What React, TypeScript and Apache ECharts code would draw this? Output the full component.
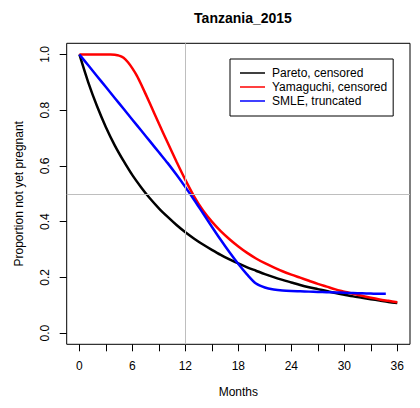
import React, { useEffect, useRef } from "react";
import * as echarts from "echarts";

// Survival curves: proportion of women not yet pregnant by months since start
const paretoMonths = [0, 1, 2, 3, 4, 5, 6, 7, 8, 9, 10, 11, 12, 13, 14, 15, 16, 17, 18, 19, 20, 21, 22, 23, 24, 25, 26, 27, 28, 29, 30, 31, 32, 33, 34, 35, 36];
const paretoValues = [1.0, 0.9, 0.814, 0.739, 0.674, 0.618, 0.567, 0.523, 0.483, 0.448, 0.417, 0.388, 0.362, 0.339, 0.318, 0.299, 0.281, 0.265, 0.25, 0.236, 0.224, 0.212, 0.201, 0.191, 0.182, 0.173, 0.165, 0.158, 0.151, 0.144, 0.138, 0.132, 0.127, 0.122, 0.117, 0.112, 0.108];

const yamaguchiMonths = [0, 1, 2, 3, 3.5, 4, 4.5, 5, 5.5, 6, 6.5, 7, 8, 9, 10, 11, 12, 13, 14, 15, 16, 17, 18, 19, 20, 21, 22, 23, 24, 25, 26, 27, 28, 29, 30, 31, 32, 33, 34, 35, 36];
const yamaguchiValues = [1.0, 1.0, 1.0, 1.0, 1.0, 0.999, 0.996, 0.988, 0.972, 0.95, 0.924, 0.892, 0.823, 0.752, 0.683, 0.615, 0.55, 0.49, 0.44, 0.4, 0.366, 0.337, 0.311, 0.288, 0.268, 0.251, 0.236, 0.222, 0.21, 0.199, 0.188, 0.177, 0.167, 0.157, 0.149, 0.141, 0.134, 0.127, 0.121, 0.116, 0.111];

const smleMonths = [0, 1, 2, 3, 4, 5, 6, 7, 8, 9, 10, 11, 12, 13, 14, 15, 16, 17, 18, 19, 20, 21, 22, 23, 24, 25, 26, 27, 28, 29, 30, 31, 32, 33, 34, 34.7];
const smleValues = [1.0, 0.961, 0.922, 0.883, 0.844, 0.805, 0.766, 0.727, 0.688, 0.649, 0.61, 0.568, 0.524, 0.478, 0.43, 0.382, 0.335, 0.29, 0.248, 0.21, 0.178, 0.164, 0.157, 0.153, 0.151, 0.15, 0.149, 0.148, 0.147, 0.146, 0.145, 0.144, 0.143, 0.142, 0.141, 0.141];

const seriesNames = ["Pareto, censored", "Yamaguchi, censored", "SMLE, truncated"];
const seriesColors = ["#000000", "#ff0000", "#0000ff"];

const xTickValues = [0, 3, 6, 9, 12, 15, 18, 21, 24, 27, 30, 33, 36];
const xLabelValues = [0, 6, 12, 18, 24, 30, 36];
const yTickValues = [0, 0.2, 0.4, 0.6, 0.8, 1.0];

const refMonth = 12;
const refProportion = 0.5;

const FONT = "'Liberation Sans', Arial, Helvetica, sans-serif";

const pairs = (xs: number[], ys: number[]) => xs.map((x, i) => [x, ys[i]]);

export default function App() {
  const ref = useRef<HTMLDivElement | null>(null);

  useEffect(() => {
    document.body.style.margin = "0";
    if (!ref.current) return;
    const chart = echarts.init(ref.current, undefined, { renderer: "svg" });

    const lineData = [
      pairs(paretoMonths, paretoValues),
      pairs(yamaguchiMonths, yamaguchiValues),
      pairs(smleMonths, smleValues),
    ];

    const series: any[] = lineData.map((data, i) => ({
      name: seriesNames[i],
      type: "line",
      data,
      showSymbol: false,
      symbol: "none",
      smooth: 0.3,
      lineStyle: { color: seriesColors[i], width: 2.5 },
      itemStyle: { color: seriesColors[i] },
      z: 3,
    }));

    // gray reference lines at 12 months and proportion 0.5
    series.push({
      name: "ref",
      type: "line",
      data: [],
      silent: true,
      markLine: {
        silent: true,
        symbol: "none",
        label: { show: false },
        lineStyle: { color: "#bebebe", width: 1, type: "solid" },
        data: [{ xAxis: refMonth }, { yAxis: refProportion }],
      },
      z: 1,
    });

    chart.setOption({
      animation: false,
      backgroundColor: "#ffffff",
      textStyle: { fontFamily: FONT },
      title: {
        text: "Tanzania_2015",
        left: 238,
        textAlign: "center",
        top: 6,
        textStyle: { fontFamily: FONT, fontSize: 14, fontWeight: "bold", color: "#000" },
      },
      legend: {
        data: seriesNames,
        orient: "vertical",
        left: 230,
        top: 59,
        padding: [7, 6, 8, 10],
        itemGap: 0,
        itemWidth: 25,
        itemHeight: 1.5,
        icon: "rect",
        borderColor: "#000",
        borderWidth: 1,
        backgroundColor: "#fff",
        textStyle: {
          fontFamily: FONT,
          fontSize: 12,
          lineHeight: 14,
          height: 14,
          color: "#000",
          padding: [0, 0, 0, 2],
        },
      },
      grid: {
        left: 66.7,
        right: 10,
        top: 43.3,
        bottom: 63.7,
        show: true,
        borderColor: "#000",
        borderWidth: 1,
        backgroundColor: "transparent",
      },
      xAxis: {
        type: "value",
        min: -1.44,
        max: 37.44,
        name: "Months",
        nameLocation: "middle",
        nameGap: 42,
        nameTextStyle: { fontFamily: FONT, fontSize: 12, color: "#000" },
        axisLine: { show: false, onZero: false },
        splitLine: { show: false },
        axisTick: {
          show: true,
          inside: false,
          length: 7,
          lineStyle: { color: "#000", width: 1 },
          customValues: xTickValues,
        },
        axisLabel: {
          customValues: xLabelValues,
          margin: 16,
          fontFamily: FONT,
          fontSize: 12,
          color: "#000",
        },
      },
      yAxis: {
        type: "value",
        min: -0.04,
        max: 1.04,
        name: "Proportion not yet pregnant",
        nameLocation: "middle",
        nameGap: 42,
        nameRotate: 90,
        nameTextStyle: { fontFamily: FONT, fontSize: 12, color: "#000" },
        axisLine: { show: false, onZero: false },
        splitLine: { show: false },
        axisTick: {
          show: true,
          inside: false,
          length: 7,
          lineStyle: { color: "#000", width: 1 },
          customValues: yTickValues,
        },
        axisLabel: {
          customValues: yTickValues,
          rotate: 90,
          margin: 16,
          fontFamily: FONT,
          fontSize: 12,
          color: "#000",
          formatter: (v: number) => v.toFixed(1),
        },
      },
      series,
    });

    return () => chart.dispose();
  }, []);

  return (
    <div
      ref={ref}
      style={{ position: "absolute", left: 0, top: 0, width: 420, height: 408 }}
    />
  );
}
